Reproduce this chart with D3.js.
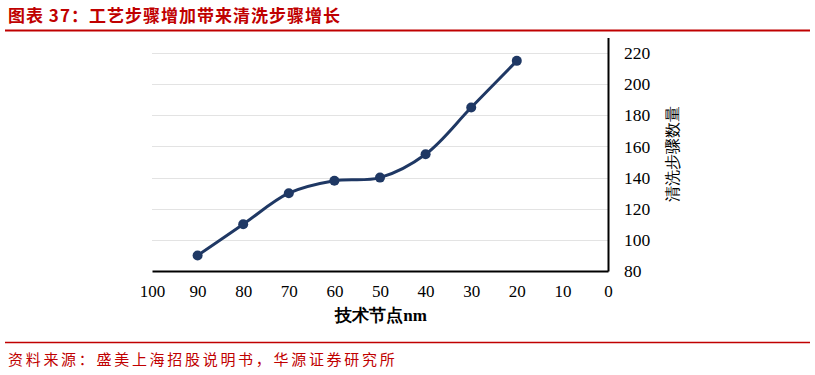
<!DOCTYPE html>
<html>
<head>
<meta charset="utf-8">
<script src="https://cdn.jsdelivr.net/npm/d3@7"></script>
<style>
  body { margin: 0; background: #fff; }
  svg { display: block; }
</style>
</head>
<body>
<svg id="chart" width="815" height="375"></svg>
<script>
// data
const nodes = [90, 80, 70, 60, 50, 40, 30, 20];
const steps = [90, 110, 130, 138, 140, 155, 185, 215];
const xTicks = [100, 90, 80, 70, 60, 50, 40, 30, 20, 10, 0];
const yTicks = [80, 100, 120, 140, 160, 180, 200, 220];

const title = "图表 37：工艺步骤增加带来清洗步骤增长";
const source = "资料来源：盛美上海招股说明书，华源证券研究所";
const xLabel = "技术节点nm";
const yLabel = "清洗步骤数量";

const red = "#c00000";
const navy = "#1f3864";
const serif = "'Liberation Serif', 'DejaVu Serif', serif";
const cjk = "'Noto Sans CJK SC', sans-serif";

const svg = d3.select("#chart");

// header and footer
svg.append("text")
    .attr("x", 8).attr("y", 22)
    .attr("font-family", cjk).attr("font-size", "17px").attr("font-weight", "bold")
    .attr("letter-spacing", "1px")
    .attr("fill", red)
    .text(title);
svg.append("line")
    .attr("x1", 5).attr("x2", 810).attr("y1", 30.5).attr("y2", 30.5)
    .attr("stroke", red).attr("stroke-width", 2);
svg.append("line")
    .attr("x1", 5).attr("x2", 810).attr("y1", 342.5).attr("y2", 342.5)
    .attr("stroke", red).attr("stroke-width", 1.5);
svg.append("text")
    .attr("x", 8).attr("y", 365)
    .attr("font-family", cjk).attr("font-size", "15px")
    .attr("letter-spacing", "2.7px")
    .attr("fill", red)
    .text(source);

// scales
const x = d3.scaleLinear().domain([100, 0]).range([152, 608]);
const y = d3.scaleLinear().domain([80, 230]).range([271, 37.5]);

// gridlines
svg.append("g")
    .selectAll("line")
    .data(yTicks.filter(d => d > 80))
    .join("line")
    .attr("x1", x(100)).attr("x2", x(0))
    .attr("y1", d => Math.round(y(d)) + 0.5).attr("y2", d => Math.round(y(d)) + 0.5)
    .attr("stroke", "#e3e3e3").attr("stroke-width", 1);

// x axis
const xAxis = svg.append("g")
    .attr("transform", "translate(0," + y(80) + ")")
    .call(d3.axisBottom(x).tickValues(xTicks).tickSize(0).tickPadding(14));
xAxis.select(".domain").attr("stroke", "#000").attr("stroke-width", 2);
xAxis.selectAll("text")
    .attr("font-family", serif).attr("font-size", "17px").attr("fill", "#000");

// y axis on the right
const yAxis = svg.append("g")
    .attr("transform", "translate(" + x(0) + ",0)")
    .call(d3.axisRight(y).tickValues(yTicks).tickSize(0).tickPadding(16));
yAxis.select(".domain").attr("stroke", "#000").attr("stroke-width", 2);
yAxis.selectAll("text")
    .attr("font-family", serif).attr("font-size", "17.5px").attr("fill", "#000");

// axis titles
svg.append("text")
    .attr("x", 381).attr("y", 321)
    .attr("text-anchor", "middle")
    .attr("font-family", serif).attr("font-size", "17px").attr("font-weight", "bold")
    .text(xLabel);
svg.append("text")
    .attr("transform", "translate(678," + y(155) + ") rotate(-90)")
    .attr("text-anchor", "middle")
    .attr("font-family", serif).attr("font-size", "16px")
    .text(yLabel);

// line and markers
const pts = nodes.map((n, i) => [n, steps[i]]);
const line = d3.line()
    .x(d => x(d[0])).y(d => y(d[1]))
    .curve(d3.curveCatmullRom.alpha(0.5));

svg.append("path")
    .datum(pts)
    .attr("d", line)
    .attr("fill", "none")
    .attr("stroke", navy)
    .attr("stroke-width", 3);

svg.append("g")
    .selectAll("circle")
    .data(pts)
    .join("circle")
    .attr("cx", d => x(d[0])).attr("cy", d => y(d[1]))
    .attr("r", 5)
    .attr("fill", navy);
</script>
</body>
</html>
